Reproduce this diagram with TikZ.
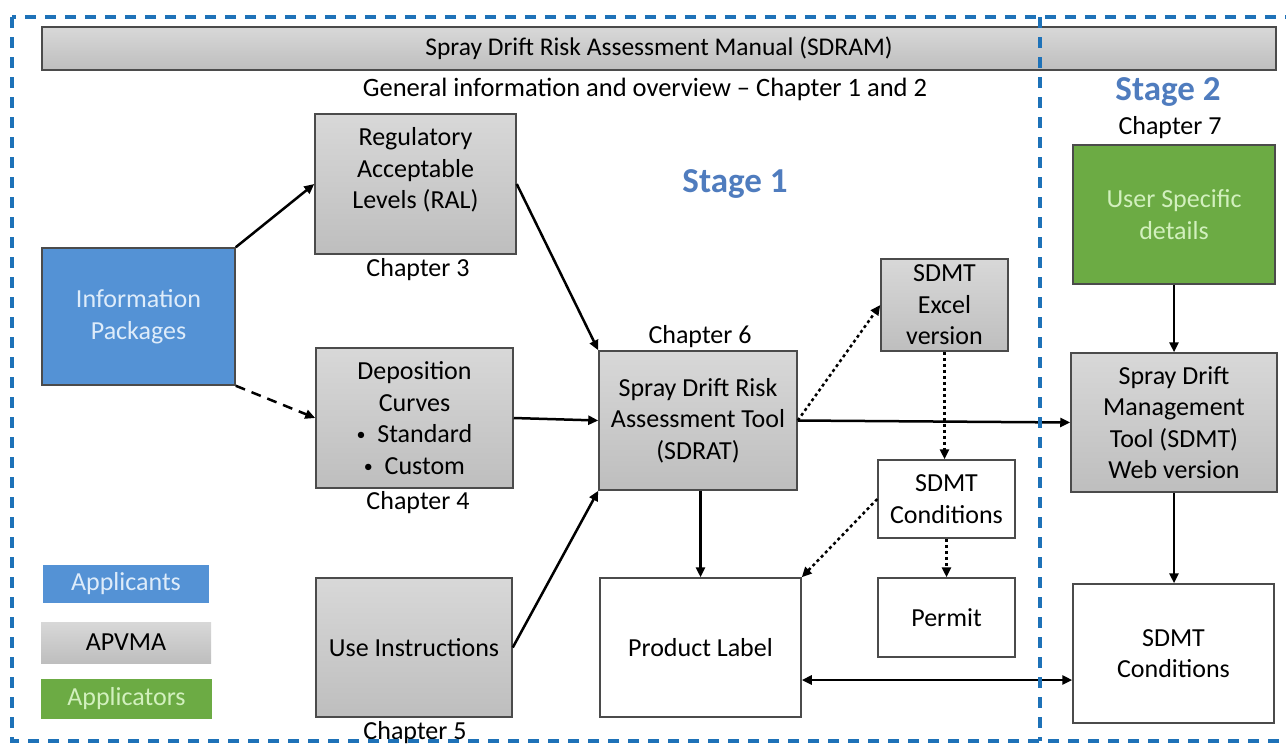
\documentclass[tikz,border=0pt]{standalone}
\usepackage{fontspec}
\setmainfont{Carlito}
\usetikzlibrary{arrows.meta,calc}
\definecolor{boxblue}{RGB}{84,146,213}
\definecolor{boxgreen}{RGB}{108,171,68}
\definecolor{stageblue}{RGB}{79,124,190}
\definecolor{borderblue}{RGB}{30,114,184}
\definecolor{edgegray}{RGB}{75,75,75}
\definecolor{graytop}{RGB}{216,216,216}
\definecolor{graybot}{RGB}{190,190,190}
\definecolor{lightbluetext}{RGB}{222,236,250}
\definecolor{lightgreentext}{RGB}{210,240,190}
\newcommand{\smallbul}{\raisebox{2pt}{\fontsize{18}{18}\selectfont\textbullet}}
\begin{document}
\begin{tikzpicture}[x=1pt,y=-1pt,
  base/.style={draw=edgegray, line width=1.5pt, inner sep=0pt, align=center,
    font=\fontsize{26}{31.5}\selectfont},
  graybox/.style={base, top color=graytop, bottom color=graybot},
  whitebox/.style={base, fill=white},
  bluebox/.style={base, fill=boxblue, text=lightbluetext},
  greenbox/.style={base, fill=boxgreen, text=lightgreentext},
  legendbox/.style={inner sep=0pt, font=\fontsize{26}{31}\selectfont},
  lbl/.style={inner sep=0pt, font=\fontsize{26}{31}\selectfont},
  conn/.style={line width=2.5pt, -{Triangle[length=10pt,width=9pt]}},
  dconn/.style={conn, dash pattern=on 10pt off 7pt},
  oconn/.style={conn, dash pattern=on 3pt off 3pt},
  border/.style={draw=borderblue, line width=3.5pt, dash pattern=on 11pt off 9pt}
]
\useasboundingbox (0,0) rectangle (1286,745);
\clip (0,0) rectangle (1286,745);

% top bar
\node[graybox, minimum width=1234pt, minimum height=43pt,
  font=\fontsize{25.5}{30}\selectfont] (bar) at (659,48.5)
  {Spray Drift Risk Assessment Manual (SDRAM)};
\node[lbl, font=\fontsize{26.5}{31}\selectfont] (gen) at (645,89)
  {General information and overview -- Chapter 1 and 2};

% stage titles
\node[lbl, font=\fontsize{35}{41}\selectfont\bfseries, text=stageblue] (st1) at (735,184) {Stage 1};
\node[lbl, font=\fontsize{35}{41}\selectfont\bfseries, text=stageblue] (st2) at (1168,92) {Stage 2};
\node[lbl] (ch7) at (1170,128) {Chapter 7};

% boxes
\node[bluebox, minimum width=193pt, minimum height=137pt] (info) at (138.5,316.5)
  {Information\\Packages};
\node[graybox, minimum width=201pt, minimum height=140pt] (ral) at (415.5,184)
  {Regulatory\\Acceptable\\Levels (RAL)\\\mbox{}};
\node[lbl] (ch3) at (418,270) {Chapter 3};
\node[graybox, minimum width=197pt, minimum height=140pt] (dep) at (414.5,418)
  {Deposition\\Curves\\\smallbul\ \ Standard\\\smallbul\ \ Custom};
\node[lbl] (ch4) at (418,503) {Chapter 4};
\node[graybox, minimum width=196pt, minimum height=139pt] (use) at (414,647.5)
  {Use Instructions};
\node[lbl] (ch5) at (415,733) {Chapter 5};
\node[graybox, minimum width=198pt, minimum height=139pt] (sdrat) at (698,420.5)
  {Spray Drift Risk\\Assessment Tool\\(SDRAT)};
\node[lbl] (ch6) at (700,337) {Chapter 6};
\node[graybox, minimum width=127pt, minimum height=92pt] (excel) at (944.5,305)
  {SDMT\\Excel\\version};
\node[whitebox, minimum width=137pt, minimum height=78pt] (cond) at (946.5,499)
  {SDMT\\Conditions};
\node[whitebox, minimum width=137pt, minimum height=79pt] (permit) at (946.5,617.5)
  {Permit};
\node[whitebox, minimum width=201pt, minimum height=139pt] (product) at (700.5,647.5)
  {Product Label};
\node[greenbox, minimum width=202pt, minimum height=139pt] (user) at (1174,214.5)
  {User Specific\\details};
\node[graybox, minimum width=206pt, minimum height=139pt] (web) at (1174,422.5)
  {Spray Drift\\Management\\Tool (SDMT)\\Web version};
\node[whitebox, minimum width=201pt, minimum height=139pt] (sdmtc) at (1173.5,653.5)
  {SDMT\\Conditions};

% legend
\node[legendbox, fill=boxblue, text=lightbluetext, minimum width=166pt, minimum height=38pt] (lapp) at (126,584) {Applicants};
\node[legendbox, top color=graytop, bottom color=graybot, minimum width=170pt, minimum height=41pt] (lapv) at (126,642.5) {APVMA};
\node[legendbox, fill=boxgreen, text=lightgreentext, minimum width=171pt, minimum height=40pt] (lapl) at (126.5,699) {Applicators};

% connectors
\draw[conn] (info.north east) -- (ral.west);
\draw[dconn] (info.south east) -- (dep.west);
\draw[conn] (ral.east) -- (sdrat.north west);
\draw[conn] (dep.east) -- (sdrat.west);
\draw[conn] (use.east) -- (sdrat.south west);
\draw[oconn] (sdrat.east) -- (excel.west);
\draw[conn] (sdrat.east) -- (web.west);
\draw[oconn] (excel.south) -- (excel.south |- cond.north);
\draw[oconn] (cond.west) -- (product.north east);
\draw[oconn] (cond.south) -- (cond.south |- permit.north);
\draw[conn] (sdrat.south -| product.north) -- (product.north);
\draw[conn] (user.south) -- (user.south |- web.north);
\draw[conn] (web.south) -- (web.south |- sdmtc.north);
\draw[conn, {Triangle[length=10pt,width=9pt]}-{Triangle[length=10pt,width=9pt]}]
  ([yshift=-32.5pt]product.east) -- ([yshift=-32.5pt]product.east -| sdmtc.west);

% dashed borders
\draw[border] (12,17) rectangle (1310,741);
\draw[border] (1040,17) -- (1040,741);
\end{tikzpicture}
\end{document}
